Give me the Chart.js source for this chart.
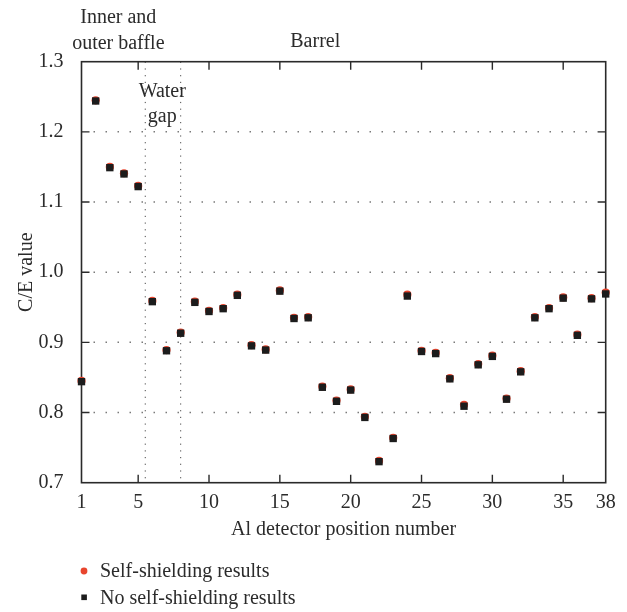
<!DOCTYPE html>
<html>
<head>
<meta charset="utf-8">
<script src="https://cdn.jsdelivr.net/npm/chart.js@4.4.1/dist/chart.umd.min.js"></script>
<style>
  body { margin: 0; background: #fff; }
  #wrap { width: 627px; height: 612px; }
</style>
</head>
<body>
<div id="wrap"><canvas id="ceChart" width="627" height="612"></canvas></div>
<script>
// Al detector C/E values
const positions = [1, 2, 3, 4, 5, 6, 7, 8, 9, 10, 11, 12, 13, 14, 15, 16, 17, 18, 19,
                   20, 21, 22, 23, 24, 25, 26, 27, 28, 29, 30, 31, 32, 33, 34, 35, 36, 37, 38];
const selfShielding = [0.845, 1.245, 1.150, 1.141, 1.123, 0.959, 0.889, 0.914, 0.958, 0.945,
                       0.949, 0.968, 0.896, 0.890, 0.974, 0.935, 0.936, 0.837, 0.817, 0.833,
                       0.794, 0.731, 0.764, 0.968, 0.888, 0.885, 0.849, 0.811, 0.869, 0.881,
                       0.820, 0.859, 0.936, 0.949, 0.964, 0.911, 0.963, 0.971];
const noSelfShielding = [0.844, 1.244, 1.149, 1.140, 1.122, 0.958, 0.888, 0.913, 0.957, 0.944,
                         0.948, 0.967, 0.895, 0.889, 0.973, 0.934, 0.935, 0.836, 0.816, 0.832,
                         0.793, 0.730, 0.763, 0.966, 0.887, 0.884, 0.848, 0.809, 0.868, 0.880,
                         0.819, 0.858, 0.935, 0.948, 0.963, 0.910, 0.962, 0.969];
const xTickValues = [1, 5, 10, 15, 20, 25, 30, 35, 38];
const yTickValues = [0.7, 0.8, 0.9, 1.0, 1.1, 1.2, 1.3];
const regionBounds = [5.5, 8];
const regionLabels = ['Inner and\nouter baffle', 'Water\ngap', 'Barrel'];
const regionCenters = [3.6, 6.7, 17.5];

const FONT = '"Liberation Serif", "Times New Roman", serif';
const TEXT = '#2b2b2b';
const RED = '#e8452e';
const BLACK = '#1c1c1c';

// frame, inward ticks, dotted grid, region separators and all free text
const framePlugin = {
    id: 'frame',
    beforeDatasetsDraw(chart) {
        const { ctx, chartArea: a, scales: { x, y } } = chart;
        ctx.save();

        // dotted horizontal grid
        ctx.strokeStyle = '#7a7a7a';
        ctx.lineWidth = 1.5;
        ctx.setLineDash([1.5, 10.5]);
        yTickValues.slice(1, -1).forEach(v => {
            const py = y.getPixelForValue(v);
            ctx.beginPath();
            ctx.moveTo(a.left + 12, py);
            ctx.lineTo(a.right - 8, py);
            ctx.stroke();
        });

        // region separators
        ctx.strokeStyle = '#4a4a4a';
        ctx.lineWidth = 1;
        ctx.setLineDash([1.2, 5.5]);
        regionBounds.forEach(v => {
            const px = x.getPixelForValue(v);
            ctx.beginPath();
            ctx.moveTo(px, a.top);
            ctx.lineTo(px, a.bottom);
            ctx.stroke();
        });
        ctx.setLineDash([]);

        // box
        ctx.strokeStyle = '#2a2a2a';
        ctx.lineWidth = 1.6;
        ctx.strokeRect(a.left, a.top, a.right - a.left, a.bottom - a.top);

        // inward tick marks
        ctx.lineWidth = 1.4;
        ctx.beginPath();
        xTickValues.slice(1, -1).forEach(v => {
            const px = x.getPixelForValue(v);
            ctx.moveTo(px, a.bottom); ctx.lineTo(px, a.bottom - 8);
            ctx.moveTo(px, a.top); ctx.lineTo(px, a.top + 8);
        });
        yTickValues.slice(1, -1).forEach(v => {
            const py = y.getPixelForValue(v);
            ctx.moveTo(a.left, py); ctx.lineTo(a.left + 8, py);
            ctx.moveTo(a.right, py); ctx.lineTo(a.right - 8, py);
        });
        ctx.stroke();
        ctx.restore();
    },
    afterDraw(chart) {
        const { ctx, chartArea: a, scales: { x } } = chart;
        ctx.save();
        ctx.fillStyle = TEXT;
        ctx.font = '20px ' + FONT;
        ctx.textAlign = 'center';
        ctx.textBaseline = 'alphabetic';

        // region names
        const baselines = [[22.7, 49], [97, 122], [47]];
        regionLabels.forEach((label, i) => {
            const px = x.getPixelForValue(regionCenters[i]);
            label.split('\n').forEach((line, j) => {
                ctx.fillText(line, px, baselines[i][j]);
            });
        });

        // axis titles
        ctx.fillText('Al detector position number', (a.left + a.right) / 2, 535);
        ctx.save();
        ctx.translate(32, (a.top + a.bottom) / 2);
        ctx.rotate(-Math.PI / 2);
        ctx.fillText('C/E value', 0, 0);
        ctx.restore();

        // legend
        ctx.textAlign = 'left';
        const ds = chart.data.datasets;
        ctx.fillText(ds[0].label, 100, 577);
        ctx.fillText(ds[1].label, 100, 603.5);
        ctx.fillStyle = RED;
        ctx.beginPath();
        ctx.arc(84, 571, 3.4, 0, Math.PI * 2);
        ctx.fill();
        ctx.fillStyle = BLACK;
        ctx.fillRect(81.3, 594.5, 5.6, 5.6);
        ctx.restore();
    }
};

new Chart(document.getElementById('ceChart'), {
    type: 'scatter',
    data: {
        datasets: [{
            label: 'Self-shielding results',
            data: positions.map((p, i) => ({ x: p, y: selfShielding[i] })),
            pointStyle: 'circle',
            pointRadius: 4.1,
            backgroundColor: RED,
            borderWidth: 0,
            order: 1
        }, {
            label: 'No self-shielding results',
            data: positions.map((p, i) => ({ x: p, y: noSelfShielding[i] })),
            pointStyle: 'rect',
            pointRadius: 5.2,
            backgroundColor: BLACK,
            borderWidth: 0,
            order: 0
        }]
    },
    options: {
        responsive: false,
        animation: false,
        clip: false,
        layout: { padding: { top: 61.7, right: 21.3, left: 0, bottom: 0 } },
        plugins: {
            legend: { display: false },
            tooltip: { enabled: false }
        },
        scales: {
            x: {
                type: 'linear',
                min: 1,
                max: 38,
                grid: { display: false },
                border: { display: false },
                afterBuildTicks: s => { s.ticks = xTickValues.map(v => ({ value: v })); },
                afterFit: s => { s.height = 129.3; },
                ticks: {
                    autoSkip: false,
                    maxRotation: 0,
                    padding: 0,
                    color: TEXT,
                    font: { family: FONT, size: 20 }
                }
            },
            y: {
                min: 0.7,
                max: 1.3,
                grid: { display: false },
                border: { display: false },
                afterBuildTicks: s => { s.ticks = yTickValues.map(v => ({ value: v })); },
                afterFit: s => { s.width = 81.5; },
                ticks: {
                    padding: 10,
                    color: TEXT,
                    font: { family: FONT, size: 20 },
                    callback: v => Number(v).toFixed(1)
                }
            }
        }
    },
    plugins: [framePlugin]
});
</script>
</body>
</html>
